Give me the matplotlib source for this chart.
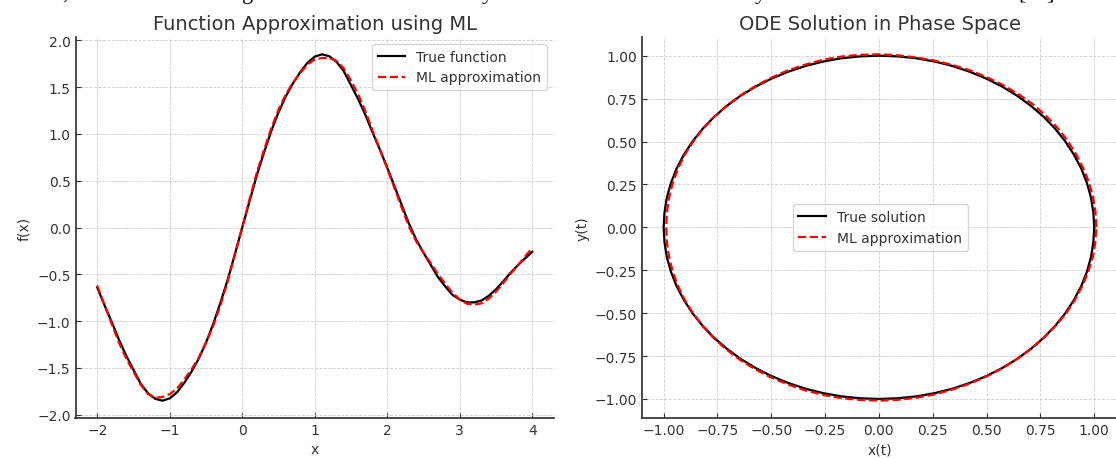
import matplotlib
matplotlib.use('Agg')
import matplotlib.pyplot as plt

# left panel: f(x)
x_vals = [-2.0, -1.9, -1.8, -1.7, -1.6, -1.5, -1.4, -1.3, -1.2, -1.1, -1.0,
          -0.9, -0.8, -0.7, -0.6, -0.5, -0.4, -0.3, -0.2, -0.1, 0.0,
          0.1, 0.2, 0.3, 0.4, 0.5, 0.6, 0.7, 0.8, 0.9, 1.0,
          1.1, 1.2, 1.3, 1.4, 1.5, 1.6, 1.7, 1.8, 1.9, 2.0,
          2.1, 2.2, 2.3, 2.4, 2.5, 2.6, 2.7, 2.8, 2.9, 3.0,
          3.1, 3.2, 3.3, 3.4, 3.5, 3.6, 3.7, 3.8, 3.9, 4.0]
true_f = [-0.64, -0.83, -1.01, -1.20, -1.37, -1.52, -1.67, -1.77, -1.83, -1.85, -1.825,
          -1.76, -1.66, -1.54, -1.40, -1.23, -1.03, -0.80, -0.555, -0.28, 0.0,
          0.28, 0.555, 0.80, 1.03, 1.23, 1.40, 1.54, 1.66, 1.76, 1.825,
          1.85, 1.83, 1.77, 1.67, 1.52, 1.37, 1.20, 1.01, 0.83, 0.64,
          0.44, 0.24, 0.04, -0.13, -0.27, -0.40, -0.53, -0.63, -0.72, -0.77,
          -0.80, -0.80, -0.78, -0.73, -0.66, -0.575, -0.485, -0.405, -0.33, -0.26]
ml_f = [-0.62, -0.83, -1.03, -1.23, -1.40, -1.54, -1.68, -1.78, -1.82, -1.81, -1.78,
        -1.72, -1.625, -1.515, -1.39, -1.23, -1.05, -0.83, -0.575, -0.28, 0.0,
        0.30, 0.585, 0.83, 1.06, 1.26, 1.42, 1.55, 1.65, 1.74, 1.795,
        1.81, 1.81, 1.78, 1.70, 1.57, 1.42, 1.24, 1.03, 0.83, 0.63,
        0.42, 0.21, 0.01, -0.15, -0.27, -0.38, -0.50, -0.60, -0.70, -0.77,
        -0.815, -0.825, -0.81, -0.76, -0.685, -0.595, -0.495, -0.405, -0.31, -0.22]

# right panel: phase-space trajectory (every 5 degrees)
xt_true = [1.000, 0.996, 0.985, 0.966, 0.940, 0.906, 0.866, 0.819, 0.766, 0.707,
           0.643, 0.574, 0.500, 0.423, 0.342, 0.259, 0.174, 0.087, 0.000,
           -0.087, -0.174, -0.259, -0.342, -0.423, -0.500, -0.574, -0.643, -0.707,
           -0.766, -0.819, -0.866, -0.906, -0.940, -0.966, -0.985, -0.996, -1.000,
           -0.996, -0.985, -0.966, -0.940, -0.906, -0.866, -0.819, -0.766, -0.707,
           -0.643, -0.574, -0.500, -0.423, -0.342, -0.259, -0.174, -0.087, 0.000,
           0.087, 0.174, 0.259, 0.342, 0.423, 0.500, 0.574, 0.643, 0.707,
           0.766, 0.819, 0.866, 0.906, 0.940, 0.966, 0.985, 0.996, 1.000]
yt_true = [0.000, 0.087, 0.174, 0.259, 0.342, 0.423, 0.500, 0.574, 0.643, 0.707,
           0.766, 0.819, 0.866, 0.906, 0.940, 0.966, 0.985, 0.996, 1.000,
           0.996, 0.985, 0.966, 0.940, 0.906, 0.866, 0.819, 0.766, 0.707,
           0.643, 0.574, 0.500, 0.423, 0.342, 0.259, 0.174, 0.087, 0.000,
           -0.087, -0.174, -0.259, -0.342, -0.423, -0.500, -0.574, -0.643, -0.707,
           -0.766, -0.819, -0.866, -0.906, -0.940, -0.966, -0.985, -0.996, -1.000,
           -0.996, -0.985, -0.966, -0.940, -0.906, -0.866, -0.819, -0.766, -0.707,
           -0.643, -0.574, -0.500, -0.423, -0.342, -0.259, -0.174, -0.087, 0.000]
xt_ml = [1.010, 1.006, 0.995, 0.976, 0.949, 0.915, 0.876, 0.829, 0.775, 0.716,
         0.650, 0.579, 0.504, 0.426, 0.344, 0.260, 0.174, 0.088, 0.000,
         -0.088, -0.175, -0.261, -0.345, -0.426, -0.503, -0.575, -0.644, -0.708,
         -0.766, -0.818, -0.863, -0.903, -0.934, -0.958, -0.975, -0.985, -0.988,
         -0.985, -0.975, -0.958, -0.934, -0.903, -0.864, -0.819, -0.768, -0.710,
         -0.647, -0.578, -0.504, -0.426, -0.345, -0.261, -0.175, -0.088, 0.000,
         0.088, 0.175, 0.261, 0.344, 0.424, 0.501, 0.574, 0.643, 0.707,
         0.766, 0.820, 0.869, 0.910, 0.944, 0.972, 0.993, 1.005, 1.010]
yt_ml = [0.000, 0.088, 0.175, 0.261, 0.345, 0.427, 0.506, 0.580, 0.651, 0.716,
         0.774, 0.827, 0.873, 0.913, 0.945, 0.971, 0.990, 1.002, 1.008,
         1.005, 0.995, 0.976, 0.947, 0.913, 0.870, 0.822, 0.768, 0.708,
         0.643, 0.573, 0.499, 0.421, 0.340, 0.257, 0.172, 0.086, 0.000,
         -0.086, -0.172, -0.257, -0.340, -0.421, -0.499, -0.574, -0.645, -0.710,
         -0.771, -0.825, -0.873, -0.914, -0.949, -0.976, -0.995, -1.006, -1.010,
         -1.005, -0.993, -0.973, -0.944, -0.910, -0.868, -0.820, -0.766, -0.707,
         -0.643, -0.574, -0.502, -0.424, -0.344, -0.260, -0.175, -0.088, 0.000]

# bits of the page text that sit just above the figure (only descenders show)
page_bits = [(',', 62), ('g', 242), ('y', 482), ('y', 755), ('[', 1018), (']', 1046)]

plt.rcParams.update({
    'font.family': 'DejaVu Sans',
    'font.size': 10,
    'text.color': '#333333',
    'axes.labelcolor': '#333333',
    'axes.edgecolor': '#333333',
    'axes.linewidth': 1.25,
    'axes.spines.top': False,
    'axes.spines.right': False,
    'xtick.color': '#333333',
    'ytick.color': '#333333',
    'xtick.direction': 'in',
    'ytick.direction': 'in',
    'legend.edgecolor': '#cccccc',
})

fig = plt.figure(figsize=(11.16, 4.6), dpi=100)
ax1 = fig.add_axes([75.5 / 1116, 41 / 460, 478.5 / 1116, 381 / 460])
ax2 = fig.add_axes([642 / 1116, 41 / 460, 476 / 1116, 381 / 460])

ax1.plot(x_vals, true_f, color='black', lw=1.6, label='True function')
ax1.plot(x_vals, ml_f, color='red', lw=1.6, ls='--', label='ML approximation')
ax1.set_title('Function Approximation using ML', fontsize=14, color='#333333')
ax1.set_xlabel('x')
ax1.set_ylabel('f(x)')
ax1.legend(loc='upper right')

ax2.plot(xt_true, yt_true, color='black', lw=1.6, label='True solution')
ax2.plot(xt_ml, yt_ml, color='red', lw=1.6, ls='--', label='ML approximation')
ax2.set_title('ODE Solution in Phase Space', fontsize=14, color='#333333')
ax2.set_xlabel('x(t)')
ax2.set_ylabel('y(t)')
ax2.legend(loc='center')

for ax in (ax1, ax2):
    ax.grid(True, ls='--', lw=0.6, color='#cccccc')
    ax.set_axisbelow(True)

for ch, px in page_bits:
    fig.text(px / 1116, 1.003, ch, family='Liberation Serif', fontsize=16,
             color='black', va='baseline', ha='left')

fig.savefig('out.png', dpi=100)
